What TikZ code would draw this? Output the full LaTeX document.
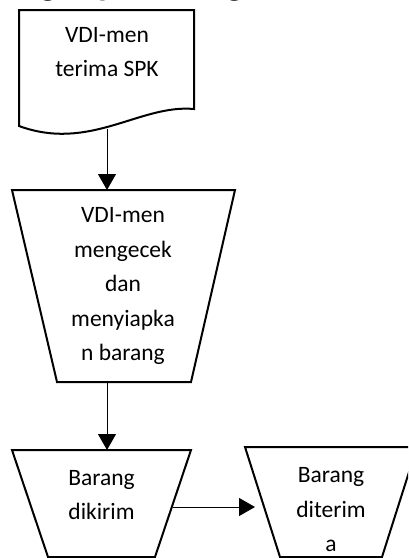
\documentclass[tikz,border=0pt]{standalone}
\usepackage{fontspec}
\setmainfont{Carlito}
\usetikzlibrary{arrows.meta}
\begin{document}
\begin{tikzpicture}[x=1pt,y=-1pt,
  shapeline/.style={draw=black,line width=2pt,line join=miter},
  label/.style={align=center,inner sep=0pt,font=\fontsize{23.5}{34.5}\selectfont},
  flow/.style={draw=black,line width=1pt,-{Triangle[width=18pt,length=16pt]}}]
  \useasboundingbox (0,0) rectangle (408,558);
  \clip (0,0) rectangle (408,558);

  % heading, partly outside the page
  \node[anchor=base west,inner sep=0pt,font=\fontsize{34}{40}\selectfont\bfseries] (title) at (4,-4.5) {Bagan pemasangan};

  % document shape with wavy bottom
  \draw[shapeline] (19,10) -- (194,10) -- (194,109)
    .. controls (140,104) and (90,152) .. (19,126) -- cycle;
  \node[label] (spk) at (107,52) {VDI-men\\terima SPK};
  \coordinate (spkb) at (107,129);

  % manual operation: check and prepare
  \draw[shapeline] (12,190) -- (235,190) -- (191,382) -- (57,382) -- cycle;
  \node[label] (cek) at (123,286) {VDI-men\\mengecek\\dan\\menyiapka\\n barang};
  \coordinate (cekt) at (107,190);
  \coordinate (cekb) at (107,382);

  % manual operation: goods sent
  \draw[shapeline] (12,450) -- (191,450) -- (155,557) -- (48,557) -- cycle;
  \node[label] (kirim) at (101.5,495) {Barang\\dikirim};
  \coordinate (kirimt) at (107,450);
  \coordinate (kirimr) at (173,507);

  % manual operation: goods received
  \draw[shapeline] (245,447) -- (417,447) -- (382,557) -- (280,557) -- cycle;
  \node[label] (terima) at (331,510) {Barang\\diterim\\a};
  \coordinate (terimal) at (255,507);

  \draw[flow] (spkb) -- (cekt);
  \draw[flow] (cekb) -- (kirimt);
  \draw[flow] (kirimr) -- (terimal);
\end{tikzpicture}
\end{document}
